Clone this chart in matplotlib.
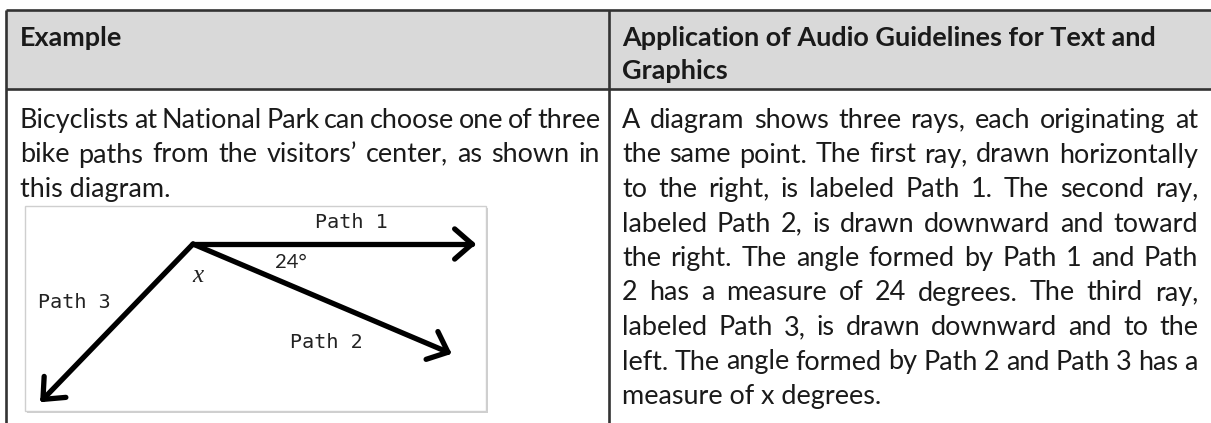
import numpy as np
import matplotlib
matplotlib.use("Agg")
import matplotlib.pyplot as plt
from matplotlib.patches import Rectangle

# table text
header_left = "Example"
header_right = ["Application of Audio Guidelines for Text and", "Graphics"]
body_left = [
    "Bicyclists at National Park can choose one of three",
    "bike paths from the visitors\u2019 center, as shown in",
    "this diagram.",
]
body_right = [
    "A diagram shows three rays, each originating at",
    "the same point. The first ray, drawn horizontally",
    "to the right, is labeled Path 1. The second ray,",
    "labeled Path 2, is drawn downward and toward",
    "the right. The angle formed by Path 1 and Path",
    "2 has a measure of 24 degrees. The third ray,",
    "labeled Path 3, is drawn downward and to the",
    "left. The angle formed by Path 2 and Path 3 has a",
    "measure of x degrees.",
]

# diagram: three rays from one point
ray_labels = ["Path 1", "Path 2", "Path 3"]
ray_angles = [0, -23, -134]      # degrees, as drawn
ray_lengths = [279, 277, 216]    # pixels
angle_label = "24\u00b0"
unknown_label = "x"

W, H = 1211, 423
fig = plt.figure(figsize=(W / 100, H / 100), dpi=100)
ax = fig.add_axes([0, 0, 1, 1])
ax.set_xlim(0, W)
ax.set_ylim(H, 0)
ax.axis("off")
r = fig.canvas.get_renderer()

FONT = "Lato"
INK = "#1a1a1a"


def text_width(s, size, weight="normal"):
    t = ax.text(0, 0, s, fontsize=size, family=FONT, weight=weight)
    w = t.get_window_extent(r).width
    t.remove()
    return w


# pick the body size so the last line has the reference's natural width
body_size = 10 * 260 / text_width(body_right[-1], 10)


def draw_justified(lines, x0, x1, y0, step, size, weight="normal"):
    for i, line in enumerate(lines):
        y = y0 + i * step
        words = line.split(" ")
        if i == len(lines) - 1 or len(words) == 1:
            ax.text(x0, y, line, fontsize=size, family=FONT, weight=weight,
                    color=INK, va="baseline", ha="left")
            continue
        arts, widths = [], []
        for w in words:
            t = ax.text(0, y, w, fontsize=size, family=FONT, weight=weight,
                        color=INK, va="baseline", ha="left")
            arts.append(t)
            widths.append(t.get_window_extent(r).width)
        gap = (x1 - x0 - sum(widths)) / (len(words) - 1)
        x = x0
        for t, w in zip(arts, widths):
            t.set_x(x)
            x += w + gap


# table frame
ax.add_patch(Rectangle((6, 10), W - 6, 79, facecolor="#d9d9d9", edgecolor="none"))
line_kw = dict(color="#333333", lw=1.9, solid_capstyle="butt")
ax.plot([6, W], [10, 10], **line_kw)
ax.plot([6, W], [89, 89], **line_kw)
ax.plot([6, 6], [10, H], **line_kw)
ax.plot([609, 609], [10, H], **line_kw)

# headers
ax.text(20, 46, header_left, fontsize=body_size, family=FONT, weight="bold",
        color=INK, va="baseline")
for i, s in enumerate(header_right):
    ax.text(622, 46 + 33 * i, s, fontsize=body_size, family=FONT, weight="bold",
            color=INK, va="baseline")

# body text
draw_justified(body_left, 20, 600, 128, 34.5, body_size)
draw_justified(body_right, 622, 1198, 128, 34.5, body_size)

# diagram box with a soft shadow
ax.add_patch(Rectangle((27, 208), 461, 205, facecolor="#b0b0b0", edgecolor="none", alpha=0.6))
ax.add_patch(Rectangle((25, 206), 461, 205, facecolor="white", edgecolor="#cfcfcf", lw=1))

ox, oy = 193, 244
ray_kw = dict(color="black", lw=3.8, solid_capstyle="round", solid_joinstyle="round")
for ang, length in zip(ray_angles, ray_lengths):
    a = np.radians(ang)
    tx, ty = ox + length * np.cos(a), oy - length * np.sin(a)
    ax.plot([ox, tx], [oy, ty], **ray_kw)
    for side in (-1, 1):
        b = a + np.pi + side * np.radians(41)
        ax.plot([tx, tx + 23 * np.cos(b)], [ty, ty - 23 * np.sin(b)], **ray_kw)

mono = dict(family="DejaVu Sans Mono", fontsize=14.5, color="#222222", va="center", ha="left")
ax.text(315, 222, ray_labels[0], **mono)
ax.text(290, 342, ray_labels[1], **mono)
ax.text(38, 302, ray_labels[2], **mono)
ax.text(275, 263, angle_label, family=FONT, fontsize=14.5, color="#222222", va="center")
ax.text(198, 276, unknown_label, family="Liberation Serif", style="italic",
        fontsize=18, color="#222222", va="center", ha="center")

fig.savefig("out.png", dpi=100)
